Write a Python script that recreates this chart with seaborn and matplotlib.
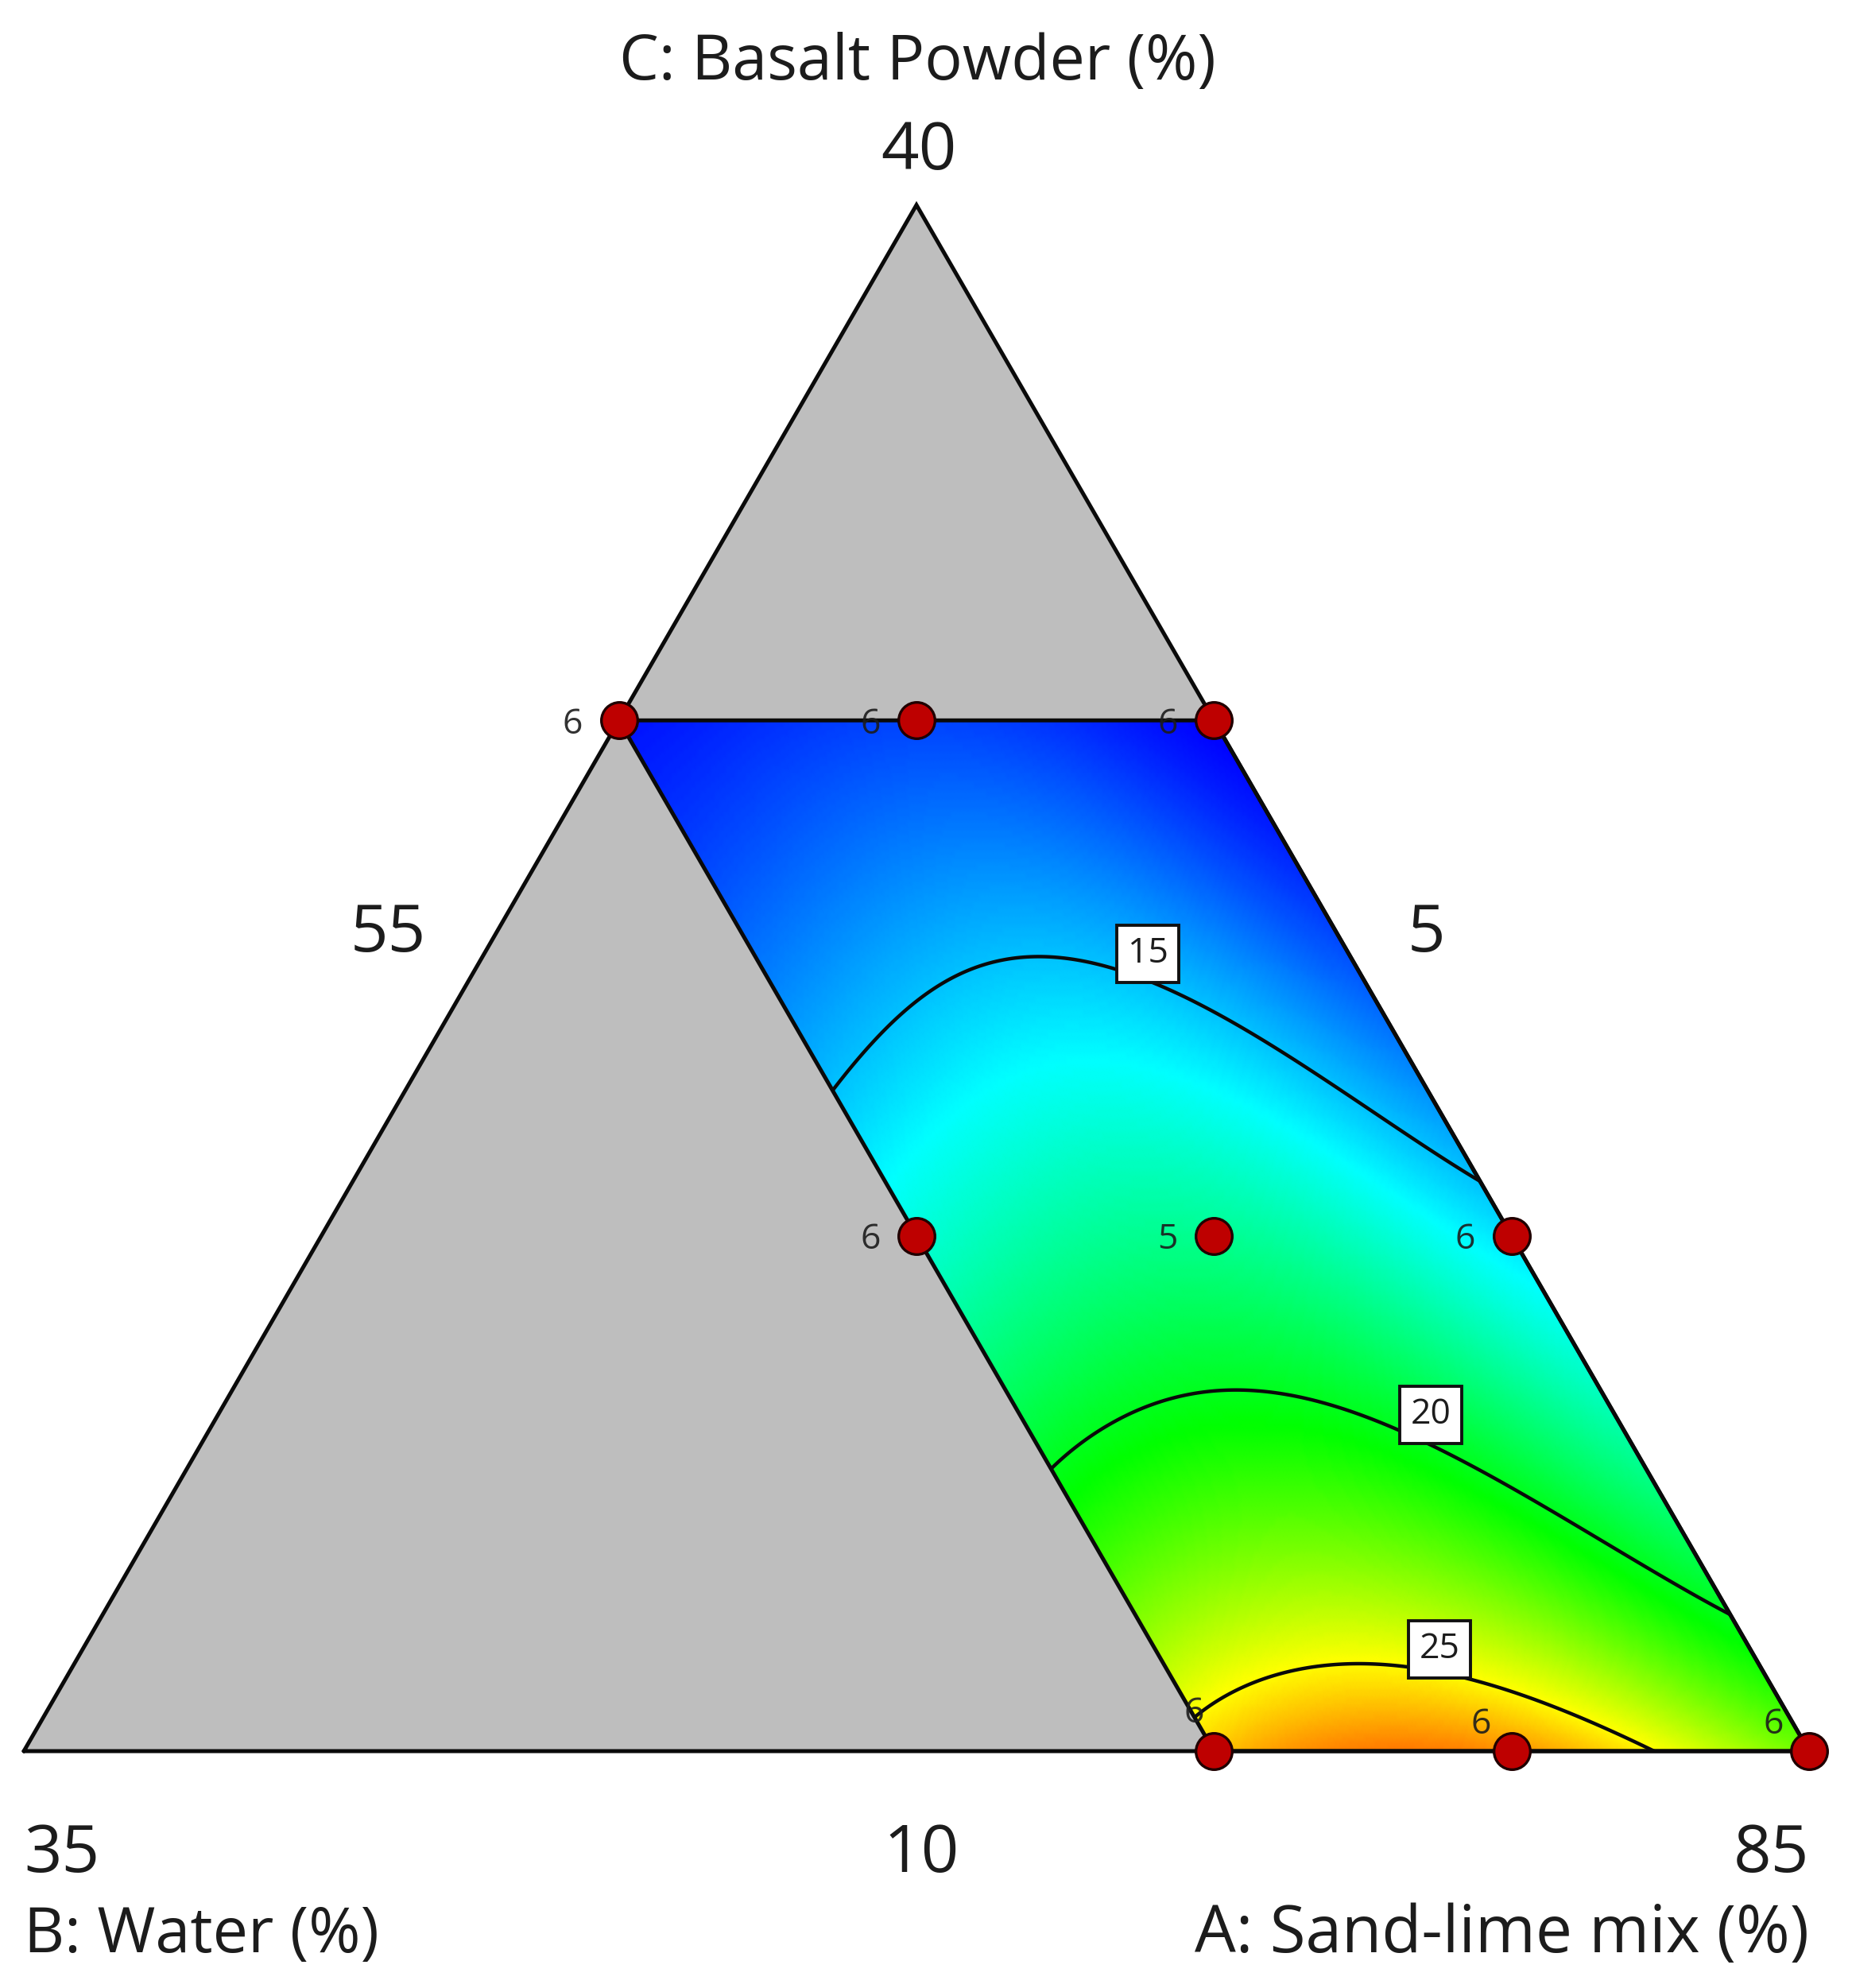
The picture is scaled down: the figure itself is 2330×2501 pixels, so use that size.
import numpy as np
import pandas as pd
import matplotlib
matplotlib.use("Agg")
import matplotlib.pyplot as plt
import matplotlib.tri as mtri
from matplotlib.colors import LinearSegmentedColormap
import seaborn as sns

sns.set_theme(style="white")
plt.rcParams['font.family'] = ['Open Sans', 'DejaVu Sans']

# Component ranges (%)
A_MIN, B_MIN, C_MIN, SPAN = 55.0, 5.0, 10.0, 30.0

# Design points
design_A = [55, 60, 65, 65, 70, 75, 75, 80, 85]
design_B = [15, 10, 5, 15, 10, 5, 15, 10, 5]
design_C = [30, 30, 30, 20, 20, 20, 10, 10, 10]
design_n = ['6', '6', '6', '6', '5', '6', '6', '6', '6']

# Response values
water_levels = [15.0, 13.75, 12.5, 11.25, 10.0, 8.75, 7.5, 6.25, 5.0]
basalt_levels = [10.0, 12.5, 15.0, 17.5, 20.0, 22.5, 25.0, 27.5, 30.0]
resp_c10 = [25.85, 26.7, 27.2, 27.4, 27.0, 26.0, 24.7, 23.6, 22.4]
resp_c125 = [22.9, 23.7, 23.95, 23.95, 23.7, 23.1, 22.3, 21.1, 20.1]
resp_c15 = [20.4, 21.05, 21.4, 21.5, 21.35, 20.9, 20.15, 19.25, 18.3]
resp_c175 = [18.4, 19.05, 19.4, 19.6, 19.5, 19.1, 18.5, 17.7, 16.85]
resp_c20 = [16.7, 17.35, 17.9, 18.05, 18.05, 17.7, 17.1, 16.3, 15.5]
resp_c225 = [15.05, 15.8, 16.25, 16.5, 16.55, 16.3, 15.7, 14.95, 14.25]
resp_c25 = [13.85, 14.37, 14.83, 15.1, 15.2, 14.98, 14.45, 13.85, 13.3]
resp_c275 = [12.8, 13.1, 13.55, 13.85, 13.95, 13.8, 13.35, 12.85, 12.3]
resp_c30 = [11.9, 12.1, 12.4, 12.7, 12.8, 12.7, 12.45, 12.0, 11.5]
contour_levels = [15, 20, 25]


def ternary(B, C):
    """Composition (%) to plane coordinates of the equilateral simplex."""
    B, C = np.asarray(B, float), np.asarray(C, float)
    A = 100.0 - B - C
    a, c = (A - A_MIN) / SPAN, (C - C_MIN) / SPAN
    return a + c / 2, c * np.sqrt(3) / 2


def design_matrix(B, C, degree=5):
    """Polynomial terms of a response surface in B and C."""
    u, v = (np.asarray(B) - 10.0) / 5.0, (np.asarray(C) - 20.0) / 10.0
    return np.column_stack([u ** i * v ** j for i in range(degree + 1)
                            for j in range(degree + 1 - i)])


W, H = 2330, 2501
fig = plt.figure(figsize=(W / 100, H / 100), dpi=100, facecolor="white")
ax = fig.add_axes([0, 0, 1, 1])
PX = 2246.0

# Whole simplex
tx, ty = ternary([35, 5, 5, 35], [10, 40, 10, 10])
ax.fill(tx, ty, color="#BEBEBE", lw=0, zorder=1)

# Surface: regress the read values, evaluate on a fine mesh
rows = np.array([resp_c10, resp_c125, resp_c15, resp_c175, resp_c20,
                 resp_c225, resp_c25, resp_c275, resp_c30])
BB, CC = np.meshgrid(water_levels, basalt_levels)
coef, *_ = np.linalg.lstsq(design_matrix(BB.ravel(), CC.ravel()), rows.ravel(), rcond=None)
fB, fC = np.meshgrid(np.linspace(5, 15, 161), np.linspace(10, 30, 241))
fx, fy = ternary(fB.ravel(), fC.ravel())
fz = design_matrix(fB.ravel(), fC.ravel()) @ coef
fine_tri = mtri.Triangulation(fx, fy)
cmap = LinearSegmentedColormap.from_list(
    "de", ["#0000FF", "#00FFFF", "#00FF00", "#FFFF00", "#FF0000"])
ax.tripcolor(fine_tri, fz, shading="gouraud", cmap=cmap,
             vmin=11.6, vmax=29.4, zorder=2)
ax.tricontour(fine_tri, fz, levels=contour_levels, colors="#0a0a0a",
              linewidths=3.2, zorder=3)

# Outlines
ax.plot(tx, ty, color="#0a0a0a", lw=3.6, zorder=4, solid_joinstyle="miter")
px_, py_ = ternary([15, 5, 5, 15, 15], [10, 10, 30, 30, 10])
ax.plot(px_, py_, color="#0a0a0a", lw=3.6, zorder=4, solid_joinstyle="miter")

# Design points
dx, dy = ternary(design_B, design_C)
df = pd.DataFrame({"x": dx, "y": dy})
sns.scatterplot(data=df, x="x", y="y", ax=ax, s=1080, color="#BE0000",
                edgecolor="#200000", linewidth=2.4, zorder=6, legend=False,
                clip_on=False)
ax.set_xlim(-30 / PX, (W - 30) / PX)
ax.set_ylim(-(H - 2203) / PX, 2203 / PX)
ax.axis("off")


def ptext(x, y, s, size, ha="center", va="baseline", **kw):
    return fig.text(x / W, 1 - y / H, s, fontsize=size, ha=ha, va=va,
                    color="#1c1c1c", **kw)


# Replicate counts
for x0, y0, n in zip(dx, dy, design_n):
    if abs(y0) < 1e-6:
        off_x, off_y = -45, -33
        if x0 < 0.7:
            off_x, off_y = -25, -47
        if 0.8 < x0 < 0.9:
            off_x = -38
    else:
        off_x, off_y = -58, 5
    px = 30 + x0 * PX + off_x
    py = 2203 - y0 * PX + off_y
    fig.text(px / W, 1 - py / H, n, fontsize=32, ha="center", va="center",
             color="#1c1c1c", alpha=0.9, zorder=7)

# Contour tags
for (x0, y0), s in zip([(1444, 1200), (1800, 1780), (1811, 2075)], ["15", "20", "25"]):
    fig.text(x0 / W, 1 - y0 / H, s, fontsize=32, ha="center", va="center",
             color="#1c1c1c", zorder=8,
             bbox=dict(boxstyle="square,pad=0.3", fc="white", ec="#111111", lw=2.8))

# Axis texts
ptext(1154, 100, "C: Basalt Powder (%)", 57)
ptext(1156, 213, "40", 60)
ptext(488, 1197, "55", 60)
ptext(1795, 1197, "5", 60)
ptext(30, 2355, "35", 60, ha="left")
ptext(1159, 2355, "10", 60)
ptext(2276, 2355, "85", 60, ha="right")
ptext(30, 2456, "B: Water (%)", 57, ha="left")
ptext(2276, 2456, "A: Sand-lime mix (%)", 59, ha="right")

fig.savefig("out.png", dpi=100, facecolor="white")
